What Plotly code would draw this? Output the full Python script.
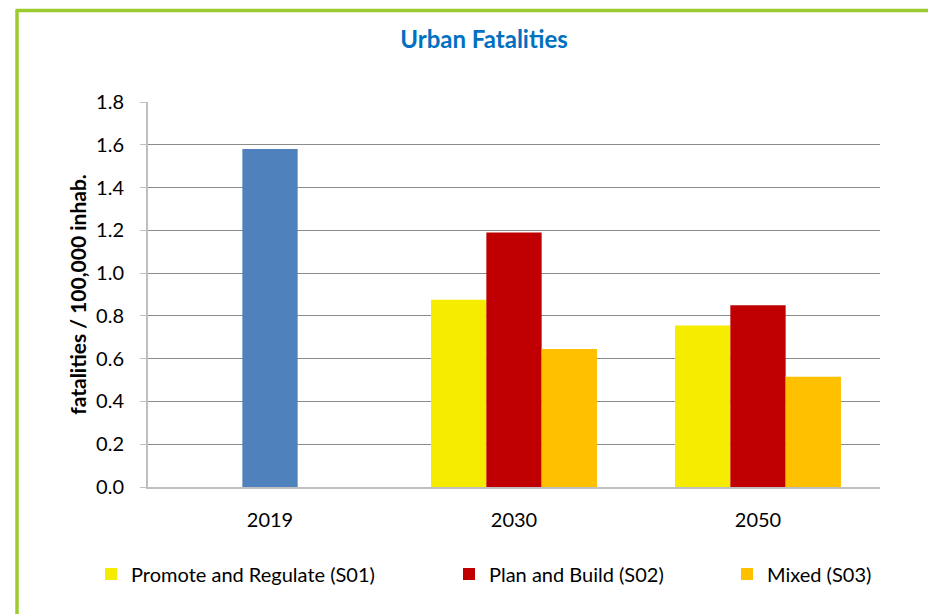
import plotly.graph_objects as go

# Urban road fatalities per 100,000 inhabitants by scenario
years = ["2019", "2030", "2050"]
baseline_years = ["2019"]
baseline_values = [1.58]
scenario_years = ["2030", "2050"]
s01_values = [0.875, 0.755]   # Promote and Regulate
s02_values = [1.19, 0.85]     # Plan and Build
s03_values = [0.645, 0.515]   # Mixed
y_ticks = [0.0, 0.2, 0.4, 0.6, 0.8, 1.0, 1.2, 1.4, 1.6, 1.8]

FONT = "Lato"
W, H = 928, 614
M_L, M_R, M_T, M_B = 148, 48, 102, 127
PW, PH = W - M_L - M_R, H - M_T - M_B


def px_x(x):
    return (x - M_L) / PW


def px_y(y):
    return (H - M_B - y) / PH


fig = go.Figure()
# trace order fixes the slot order inside each group: S01, S02, S03
fig.add_trace(go.Bar(
    x=scenario_years, y=s01_values, name="Promote and Regulate (S01)",
    marker=dict(color="#F5EC00"), offsetgroup="s01", legend="legend",
))
fig.add_trace(go.Bar(
    x=baseline_years, y=baseline_values, name="2019",
    marker=dict(color="#4F81BD"), offsetgroup="s02", showlegend=False,
))
fig.add_trace(go.Bar(
    x=scenario_years, y=s02_values, name="Plan and Build (S02)",
    marker=dict(color="#C00000"), offsetgroup="s02", legend="legend2",
))
fig.add_trace(go.Bar(
    x=scenario_years, y=s03_values, name="Mixed (S03)",
    marker=dict(color="#FFC000"), offsetgroup="s03", legend="legend3",
))
fig.update_traces(marker_line_width=0, hoverinfo="x+y+name")

legend_style = dict(
    orientation="h", yanchor="middle", xanchor="left",
    font=dict(family=FONT, size=20, color="#000000"),
    bgcolor="rgba(0,0,0,0)", itemclick=False, itemdoubleclick=False,
)
leg_y = px_y(574)

fig.update_layout(
    width=W, height=H,
    margin=dict(l=M_L, r=M_R, t=M_T, b=M_B, autoexpand=False),
    paper_bgcolor="#FFFFFF", plot_bgcolor="#FFFFFF",
    barmode="group", bargap=0.32, bargroupgap=0,
    title=dict(
        text="<b>Urban Fatalities</b>", x=484 / W, xref="container",
        xanchor="center", y=1 - 40 / H, yanchor="middle",
        font=dict(family=FONT, size=24, color="#0070C0"),
    ),
    font=dict(family=FONT, size=20, color="#000000"),
    xaxis=dict(
        type="category", categoryorder="array", categoryarray=years,
        showline=True, linecolor="#BFBFBF", linewidth=2,
        showgrid=False, ticks="", ticklabelstandoff=14,
        tickfont=dict(family=FONT, size=20, color="#000000"),
        fixedrange=True,
    ),
    yaxis=dict(
        range=[0, 1.8], tickvals=y_ticks, ticktext=[f"{v:.1f}" for v in y_ticks],
        showline=True, linecolor="#BFBFBF", linewidth=2,
        showgrid=True, gridcolor="#8C8C8C", gridwidth=1,
        ticks="outside", ticklen=6, tickcolor="#BFBFBF", tickwidth=1,
        ticklabelstandoff=12, zeroline=False,
        tickfont=dict(family=FONT, size=20, color="#000000"),
        title=dict(text="<b>fatalities / 100,000 inhab.</b>", standoff=4,
                   font=dict(family=FONT, size=21, color="#000000")),
        fixedrange=True,
    ),
    legend=dict(legend_style, x=px_x(91), y=leg_y),
    legend2=dict(legend_style, x=px_x(449), y=leg_y),
    legend3=dict(legend_style, x=px_x(727), y=leg_y),
    shapes=[
        # frame in lime green along the left and top edges
        dict(type="line", xref="paper", yref="paper",
             x0=px_x(17), x1=px_x(17), y0=px_y(H + 5), y1=px_y(10.5),
             line=dict(color="#9BCB2E", width=3.5)),
        dict(type="line", xref="paper", yref="paper",
             x0=px_x(15.5), x1=px_x(W + 5), y0=px_y(10.5), y1=px_y(10.5),
             line=dict(color="#9BCB2E", width=3.5)),
    ],
)

fig.write_html("out.html")
